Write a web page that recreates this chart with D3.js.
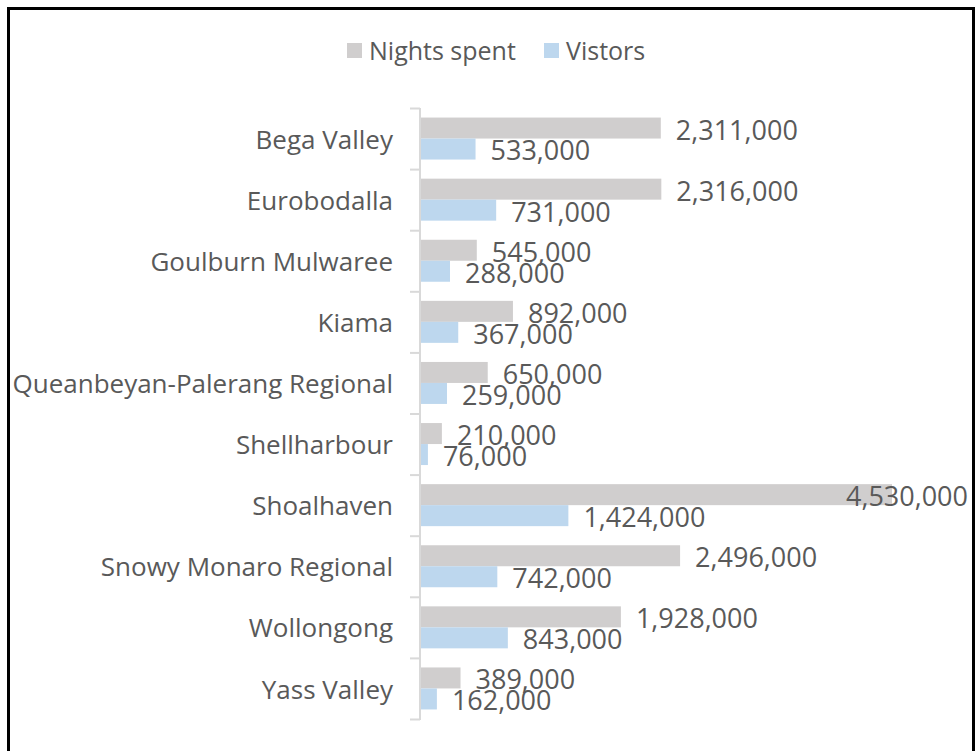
<!DOCTYPE html>
<html lang="en">
<head>
  <meta charset="UTF-8">
  <title>Nights spent and visitors</title>
  <style>
    body { margin: 0; padding: 0; background: #fff; overflow: hidden; }
    svg { display: block; }
    text { font-family: 'Open Sans', sans-serif; fill: #595959; }
    .cat text { font-size: 26px; }
    .val { font-size: 27px; }
    .legend text { font-size: 25px; }
  </style>
</head>
<body>
  <div id="chart"></div>

  <script src="https://d3js.org/d3.v7.min.js"></script>
  <script>
    // Daten
    const regions = ['Bega Valley', 'Eurobodalla', 'Goulburn Mulwaree', 'Kiama',
      'Queanbeyan-Palerang Regional', 'Shellharbour', 'Shoalhaven',
      'Snowy Monaro Regional', 'Wollongong', 'Yass Valley'];
    const nights = [2311000, 2316000, 545000, 892000, 650000, 210000, 4530000, 2496000, 1928000, 389000];
    const visitors = [533000, 731000, 288000, 367000, 259000, 76000, 1424000, 742000, 843000, 162000];
    const seriesNames = ['Nights spent', 'Vistors'];
    const colors = ['#d0cece', '#bdd7ee'];

    const W = 976, H = 751;
    const plot = { left: 420, right: 941, top: 108, bottom: 719, maxLabel: 968 };

    const svg = d3.select('#chart').append('svg')
      .attr('width', W).attr('height', H);

    // Rahmen
    svg.append('rect')
      .attr('x', 8.5).attr('y', 8.5)
      .attr('width', 965).attr('height', H + 20)
      .attr('fill', 'none').attr('stroke', '#000').attr('stroke-width', 3);

    const x = d3.scaleLinear().domain([0, 5000000]).range([plot.left, plot.right]);
    const y = d3.scaleBand().domain(regions).range([plot.top, plot.bottom]);
    const inner = d3.scaleBand().domain([0, 1]).range([0, y.bandwidth()]).paddingOuter(0.455);

    const fmt = d3.format(',');

    // Achse
    const axis = svg.append('g')
      .attr('class', 'cat')
      .attr('transform', `translate(${plot.left},0)`)
      .call(d3.axisLeft(y).tickSize(0).tickPadding(27));
    axis.select('.domain').remove();
    axis.selectAll('text').attr('dy', '0.35em').attr('y', 1);

    // Trennstriche zwischen Kategorien
    const edges = regions.map(r => y(r)).concat([plot.bottom]);
    svg.append('g').selectAll('line').data(edges).join('line')
      .attr('x1', plot.left - 10).attr('x2', plot.left)
      .attr('y1', d => d + 0.5).attr('y2', d => d + 0.5)
      .attr('stroke', '#d9d9d9').attr('stroke-width', 2);
    svg.append('line')
      .attr('x1', plot.left).attr('x2', plot.left)
      .attr('y1', plot.top).attr('y2', plot.bottom + 1)
      .attr('stroke', '#d9d9d9').attr('stroke-width', 2);

    const series = [nights, visitors];
    series.forEach((vals, s) => {
      const g = svg.append('g');
      g.selectAll('rect').data(vals).join('rect')
        .attr('x', plot.left + 1)
        .attr('y', (d, i) => y(regions[i]) + inner(s))
        .attr('width', d => x(d) - plot.left - 1)
        .attr('height', inner.bandwidth())
        .attr('fill', colors[s]);

      g.selectAll('text').data(vals).join('text')
        .attr('class', 'val')
        .attr('x', d => x(d) + 15)
        .attr('y', (d, i) => y(regions[i]) + inner(s) + inner.bandwidth() / 2 + 2)
        .attr('dy', '0.35em')
        .text(d => fmt(d))
        .each(function () {
          // Beschriftung im Plotbereich halten
          const w = this.getComputedTextLength();
          const x0 = +this.getAttribute('x');
          if (x0 + w > plot.maxLabel) this.setAttribute('x', plot.maxLabel - w);
        });
    });

    // Legende
    const legendX = [347, 544];
    const legend = svg.append('g').attr('class', 'legend');
    seriesNames.forEach((name, s) => {
      legend.append('rect')
        .attr('x', legendX[s]).attr('y', 43)
        .attr('width', 15).attr('height', 15)
        .attr('fill', colors[s]);
      legend.append('text')
        .attr('x', legendX[s] + 22).attr('y', 51)
        .attr('dy', '0.35em')
        .text(name);
    });
  </script>
</body>
</html>
